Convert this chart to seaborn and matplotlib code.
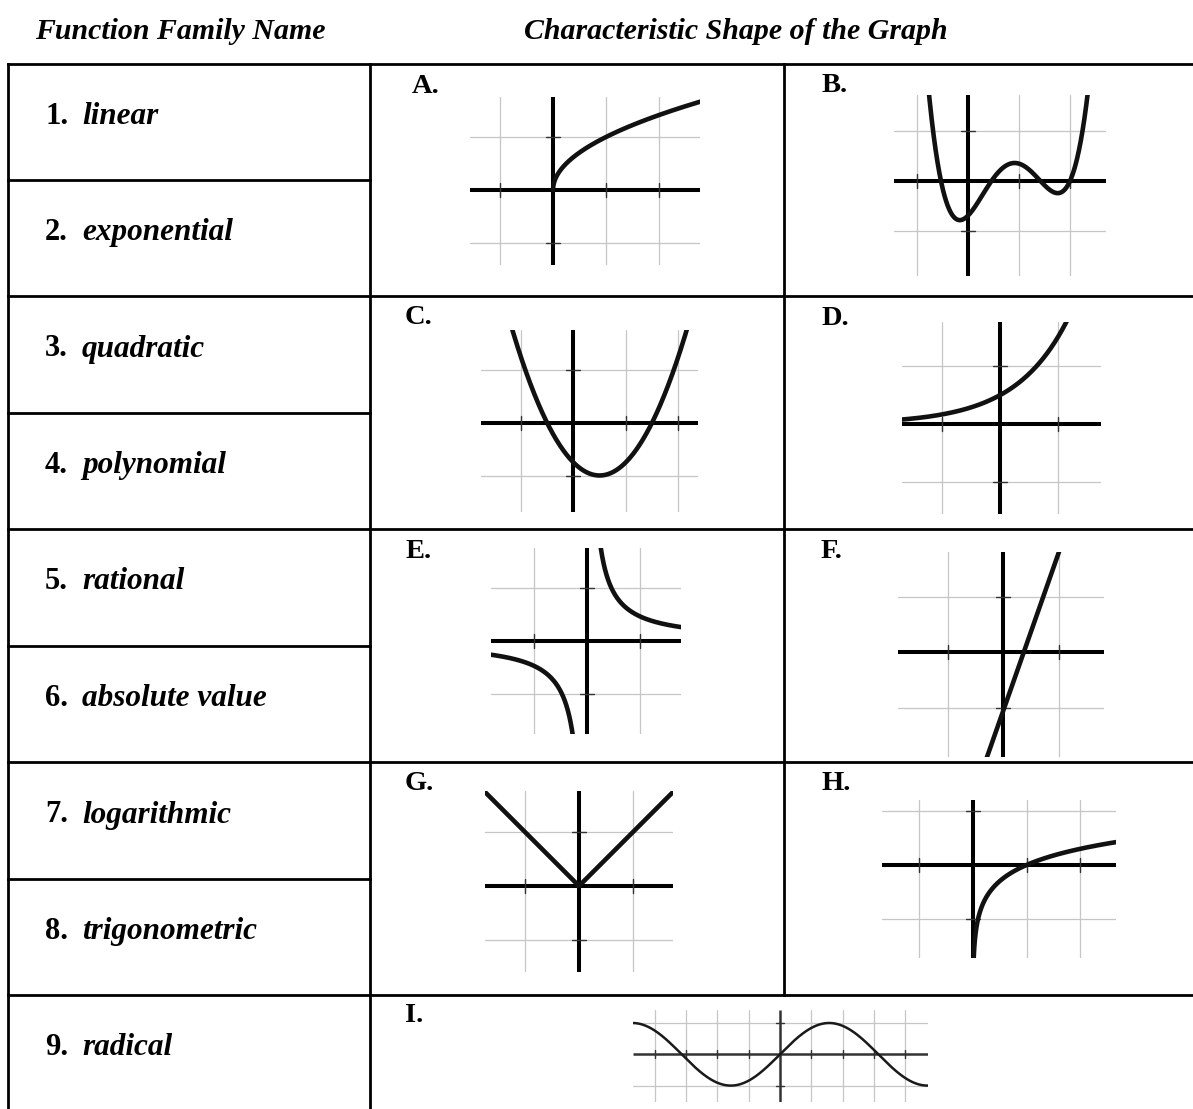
import numpy as np
import matplotlib
matplotlib.use("Agg")
import matplotlib.pyplot as plt
import seaborn as sns
import pandas as pd

sns.set_theme(style="white")
plt.rcParams["font.family"] = ["Liberation Serif", "DejaVu Serif"]
plt.rcParams["text.color"] = "black"

# ---------------- data ----------------
header_left = "Function Family Name"
header_right = "Characteristic Shape of the Graph"
family_numbers = ["1.", "2.", "3.", "4.", "5.", "6.", "7.", "8.", "9."]
family_names = ["linear", "exponential", "quadratic", "polynomial", "rational",
                "absolute value", "logarithmic", "trigonometric", "radical"]
graph_letters = ["A.", "B.", "C.", "D.", "E.", "F.", "G.", "H.", "I."]

# curve parameters
poly_roots = [-0.53, 0.46, 1.42, 2.0]      # B
parab_roots = [-0.5, 1.5]                  # C
parab_a = 1.0
exp_coef = 0.5                             # D
exp_base = 3.0
recip_k = 0.47                             # E
line_slope = 2.85                          # F
line_intercept = -1.05
abs_slope = 1.0                            # G
log_base = 10.0                            # H
sine_amp = 1.0                             # I

# ---------------- figure ----------------
W, H = 1193, 1109
fig = plt.figure(figsize=(W / 100, H / 100), dpi=100)
fig.patch.set_facecolor("white")
bg = fig.add_axes([0, 0, 1, 1])
bg.set_xlim(0, W)
bg.set_ylim(H, 0)
bg.axis("off")

LW_TAB = 2.0


def seg(x0, y0, x1, y1):
    bg.plot([x0, x1], [y0, y1], color="black", lw=LW_TAB, solid_capstyle="projecting")


# table frame
X_L, X_M, X_R, X_E = 8, 369.5, 784, 1196
full_rows = [64, 296, 528.5, 762, 994.5]
half_rows = [179.5, 412.5, 645.5, 878.5]
for y in full_rows:
    seg(X_L, y, X_E, y)
for y in half_rows:
    seg(X_L, y, X_M, y)
seg(X_L, 64, X_L, H + 5)
seg(X_M, 64, X_M, H + 5)
seg(X_R, 64, X_R, 994.5)

# headers
hfont = dict(fontsize=21.5, fontweight="bold", fontstyle="italic", va="baseline",
             ha="center", color="black")
bg.text(180.6, 39, header_left, **hfont)
bg.text(735.5, 39, header_right, **hfont)

# left column texts
row_tops = [64, 179.5, 296, 412.5, 528.5, 645.5, 762, 878.5, 994.5]
for top, num, name in zip(row_tops, family_numbers, family_names):
    bg.text(45, top + 60.5, num, fontsize=22, fontweight="bold", va="baseline",
            ha="left", color="black")
    bg.text(82, top + 60.5, name, fontsize=22.5, fontweight="bold", fontstyle="italic",
            va="baseline", ha="left", color="black")

# letter labels
label_pos = [(412, 93), (822, 92), (405, 324.5), (821, 325), (405, 557.5),
             (821, 557.5), (405, 790), (821, 790), (405, 1022)]
for (lx, ly), lab in zip(label_pos, graph_letters):
    bg.text(lx, ly, lab, fontsize=20.5, fontweight="bold", va="baseline", ha="left",
            color="black")


def mini(origin, unit, xr, yr, gx, gy, axis_lw=2.9, axis_col="black", tick=7):
    ox, oy = origin
    ux, uy = unit
    left = ox + xr[0] * ux
    right = ox + xr[1] * ux
    top = oy - yr[1] * uy
    bottom = oy - yr[0] * uy
    ax = fig.add_axes([left / W, 1 - bottom / H, (right - left) / W, (bottom - top) / H])
    ax.set_xlim(*xr)
    ax.set_ylim(*yr)
    ax.axis("off")
    for g in gx:
        ax.axvline(g, color="#c6c6c6", lw=0.9, zorder=1)
    for g in gy:
        ax.axhline(g, color="#c6c6c6", lw=0.9, zorder=1)
    ax.axhline(0, color=axis_col, lw=axis_lw, zorder=2, solid_capstyle="butt")
    ax.axvline(0, color=axis_col, lw=axis_lw, zorder=2, solid_capstyle="butt")
    for g in gx:
        ax.plot([g, g], [-tick / uy, tick / uy], color="#333333", lw=1.0, zorder=2)
    for g in gy:
        ax.plot([-tick / ux, tick / ux], [g, g], color="#333333", lw=1.0, zorder=2)
    return ax


def curve(ax, x, y, lw=3.3, color="#111111"):
    df = pd.DataFrame({"x": x, "y": y})
    sns.lineplot(data=df, x="x", y="y", ax=ax, color=color, lw=lw, estimator=None,
                 sort=False, zorder=3, legend=False)
    ax.axis("off")


# A: square root
axA = mini((553, 190), (53, 53), (-1.57, 2.77), (-1.42, 1.75), [-1, 1, 2], [-1, 1])
xa = np.linspace(0, 2.9, 400)
curve(axA, xa, np.sqrt(xa))

# B: polynomial
axB = mini((968, 181), (51, 50), (-1.45, 2.7), (-1.9, 1.72), [-1, 1, 2], [-1, 1])
xb = np.linspace(-1.0, 2.6, 600)
yb = np.prod([xb - r for r in poly_roots], axis=0)
curve(axB, xb, yb)

# C: quadratic
axC = mini((573.3, 422.7), (52.5, 52.8), (-1.76, 2.37), (-1.69, 1.76), [-1, 1, 2], [-1, 1])
xc = np.linspace(-1.6, 2.6, 500)
yc = parab_a * (xc - parab_roots[0]) * (xc - parab_roots[1])
curve(axC, xc, yc)

# D: exponential
axD = mini((1000, 424), (57.7, 57.7), (-1.70, 1.75), (-1.56, 1.76), [-1, 1], [-1, 1])
xd = np.linspace(-1.8, 1.4, 400)
curve(axD, xd, exp_coef * exp_base ** xd)

# E: rational
axE = mini((586.7, 641), (52.8, 52.8), (-1.81, 1.78), (-1.77, 1.76), [-1, 1], [-1, 1])
xe1 = np.linspace(0.2, 1.9, 400)
xe2 = np.linspace(-1.9, -0.2, 400)
curve(axE, xe1, recip_k / xe1)
curve(axE, xe2, recip_k / xe2)

# F: linear
axF = mini((1003.3, 652.3), (55.5, 55.5), (-1.89, 1.82), (-1.89, 1.81), [-1, 1], [-1, 1])
xf = np.linspace(-0.6, 1.2, 50)
curve(axF, xf, line_slope * xf + line_intercept)

# G: absolute value
axG = mini((579, 886), (54, 54), (-1.735, 1.735), (-1.59, 1.76), [-1, 1], [-1, 1])
xg = np.linspace(-2.0, 2.0, 401)
curve(axG, xg, abs_slope * np.abs(xg))

# H: logarithmic
axH = mini((972.7, 865), (53.8, 53.8), (-1.69, 2.66), (-1.73, 1.21), [-1, 1, 2], [-1, 1])
xh = np.geomspace(0.01, 2.8, 600)
curve(axH, xh, np.log(xh) / np.log(log_base))

# I: trigonometric
axI = mini((780, 1054.3), (31.3, 31.3), (-4.7, 4.72), (-1.53, 1.41),
           [-4, -3, -2, -1, 1, 2, 3, 4], [-1, 1], axis_lw=1.8, axis_col="#333333", tick=4)
xi = np.linspace(-4.8, 4.8, 600)
curve(axI, xi, sine_amp * np.sin(xi), lw=1.8, color="#1a1a1a")

fig.savefig("out.png", dpi=100, facecolor="white")
